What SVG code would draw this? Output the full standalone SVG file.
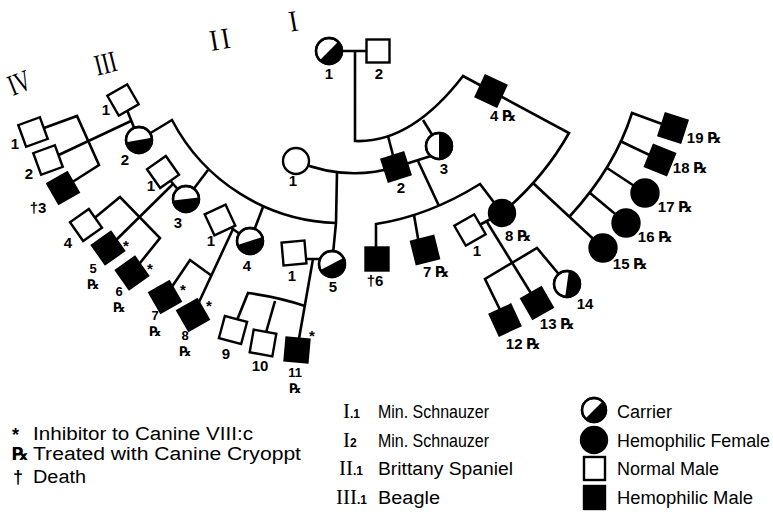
<svg xmlns="http://www.w3.org/2000/svg" width="773" height="512" viewBox="0 0 773 512">
<style>
.ln{fill:none;stroke:#000;stroke-width:2.6;stroke-linejoin:miter}
.nm{fill:#fff;stroke:#000;stroke-width:2.4}
.hm{fill:#000;stroke:#000;stroke-width:2.4}
.ol{fill:none;stroke:#000;stroke-width:2.4}
.lb{font-family:"Liberation Sans","DejaVu Sans",sans-serif;font-size:15px;font-weight:bold;text-anchor:middle;fill:#000}
.st{font-size:13px}
.rx{font-family:"DejaVu Sans","Liberation Sans",sans-serif}
.rn{font-family:"Liberation Serif","DejaVu Serif",serif;font-size:26px;text-anchor:middle;fill:#000}
.lg{font-family:"Liberation Sans","DejaVu Sans",sans-serif;font-size:18px;fill:#000}
.lr{font-family:"Liberation Serif","DejaVu Serif",serif;font-size:21px;fill:#000}
.ls{font-family:"Liberation Sans","DejaVu Sans",sans-serif;font-size:12px;font-weight:bold;fill:#000}
</style>
<defs>
<rect id="sq" x="-11.5" y="-11.5" width="23" height="23"/>
<path id="half" d="M-13,0 A13,13 0 0,0 13,0 Z"/>
</defs>

<!-- generation numerals -->
<g id="gen-labels">
<text class="rn" transform="translate(23,92) rotate(-22) scale(0.8,1.15)">IV</text>
<text class="rn" transform="translate(108,73) rotate(-14) scale(0.85,1.15)">III</text>
<text class="rn" transform="translate(223,49) rotate(-10) scale(1,1.15)" letter-spacing="3">II</text>
<text class="rn" transform="translate(295,31) rotate(-10) scale(1,1.15)">I</text>
</g>

<g id="connectors" class="ln">
<path d="M329,51 H378"/>
<path d="M355,51 V141 Q411,143.5 463,76 L491,91 L569,133 Q543,179 502,213"/>
<path d="M388,136 L396,167"/>
<path d="M423,120 L439,146"/>
<path d="M296,161 Q346,182 396,167"/>
<path d="M337,172 L336,223 L332,264"/>
<path d="M139,140 L172,120 A192,192 0 0,0 336,223"/>
<path d="M208,170 L186,199"/>
<path d="M263,207 L250,241"/>
<path d="M123,100 L139,140"/>
<path d="M131,121 L48,160"/>
<path d="M33,132 L77,116 L99,165 L63,188"/>
<path d="M163,172 L186,199"/>
<path d="M173,184 L108,248"/>
<path d="M86,225 L120,197 L160,238 L132,273"/>
<path d="M220,220 L250,241"/>
<path d="M233,229 L193,315"/>
<path d="M165,297 L190,260 L212,276"/>
<path d="M294,259 H332"/>
<path d="M313,259 L297,350"/>
<path d="M233,330 L248,293 Q278,297 305,306"/>
<path d="M275,301 L263,343"/>
<path d="M396,167 L431,156"/>
<path d="M418,161 L439,206"/>
<path d="M376,259 V224 Q428.5,216 480,184 L502,213"/>
<path d="M414,215 L420,250"/>
<path d="M470,230 L502,213"/>
<path d="M487,222 L537,303"/>
<path d="M505,320 L485,279 L537,248 L567,284"/>
<path d="M533,183 L603,248"/>
<path d="M570,216 Q615,167 632,113 L673,128"/>
<path d="M590,193 L626,223"/>
<path d="M607,168 L645,193"/>
<path d="M620,141 L660,160"/>
</g>

<!-- Generation I -->
<g id="I-1"><g transform="translate(329,51)"><circle r="13" class="nm"/><use href="#half" transform="rotate(-45)"/><circle r="13" class="ol"/></g><text class="lb" x="329" y="79">1</text></g>
<g id="I-2"><use href="#sq" class="nm" transform="translate(378,51)"/><text class="lb" x="379" y="79">2</text></g>

<!-- Generation II -->
<g id="II-1"><circle cx="296" cy="161" r="13" class="nm"/><text class="lb" x="293" y="186">1</text></g>
<g id="II-2"><use href="#sq" class="hm" transform="translate(396,167) rotate(-18)"/><text class="lb" x="401" y="193">2</text></g>
<g id="II-3"><g transform="translate(439,146)"><circle r="13" class="nm"/><use href="#half" transform="rotate(-90)"/><circle r="13" class="ol"/></g><text class="lb" x="444" y="174">3</text></g>
<g id="II-4"><use href="#sq" class="hm" transform="translate(491,91) rotate(25)"/><text class="lb" x="503" y="121">4 <tspan class="rx">℞</tspan></text></g>

<!-- Left family III.2 -->
<g id="III-1a"><use href="#sq" class="nm" transform="translate(123,100) rotate(-30)"/><text class="lb" x="106" y="115">1</text></g>
<g id="III-2"><g transform="translate(139,140)"><circle r="13" class="nm"/><use href="#half" transform="rotate(-10)"/><circle r="13" class="ol"/></g><text class="lb" x="125" y="165">2</text></g>
<g id="IV-1"><use href="#sq" class="nm" transform="translate(33,132) rotate(-20)"/><text class="lb" x="15" y="149">1</text></g>
<g id="IV-2"><use href="#sq" class="nm" transform="translate(48,160) rotate(-20)"/><text class="lb" x="29" y="179">2</text></g>
<g id="IV-3"><use href="#sq" class="hm" transform="translate(63,188) rotate(-30)"/><text class="lb" x="38" y="213">†3</text></g>

<!-- III.3 family -->
<g id="III-1b"><use href="#sq" class="nm" transform="translate(163,172) rotate(-35)"/><text class="lb" x="151" y="191">1</text></g>
<g id="III-3"><g transform="translate(186,199)"><circle r="13" class="nm"/><use href="#half" transform="rotate(-7)"/><circle r="13" class="ol"/></g><text class="lb" x="178" y="228">3</text></g>
<g id="IV-4"><use href="#sq" class="nm" transform="translate(86,225) rotate(-35)"/><text class="lb" x="68" y="248">4</text></g>
<g id="IV-5"><use href="#sq" class="hm" transform="translate(108,248) rotate(-35)"/><text class="lb" x="126" y="251">*</text><text class="lb st" x="93" y="273">5</text><text class="lb st rx" x="93" y="289">℞</text></g>
<g id="IV-6"><use href="#sq" class="hm" transform="translate(132,273) rotate(-35)"/><text class="lb" x="150" y="274">*</text><text class="lb st" x="119" y="296">6</text><text class="lb st rx" x="119" y="312">℞</text></g>

<!-- III.4 family -->
<g id="III-1c"><use href="#sq" class="nm" transform="translate(220,220) rotate(-25)"/><text class="lb" x="211" y="246">1</text></g>
<g id="III-4"><g transform="translate(250,241)"><circle r="13" class="nm"/><use href="#half" transform="rotate(-18)"/><circle r="13" class="ol"/></g><text class="lb" x="247" y="271">4</text></g>
<g id="IV-7"><use href="#sq" class="hm" transform="translate(165,297) rotate(-30)"/><text class="lb" x="183" y="295">*</text><text class="lb st" x="155" y="320">7</text><text class="lb st rx" x="155" y="336">℞</text></g>
<g id="IV-8"><use href="#sq" class="hm" transform="translate(193,315) rotate(-30)"/><text class="lb" x="209" y="311">*</text><text class="lb st" x="185" y="340">8</text><text class="lb st rx" x="185" y="356">℞</text></g>

<!-- III.5 family -->
<g id="III-1d"><use href="#sq" class="nm" transform="translate(294,253) rotate(-5)"/><text class="lb" x="292" y="281">1</text></g>
<g id="III-5"><g transform="translate(332,264)"><circle r="13" class="nm"/><use href="#half" transform="rotate(-28)"/><circle r="13" class="ol"/></g><text class="lb" x="333" y="292">5</text></g>
<g id="IV-9"><use href="#sq" class="nm" transform="translate(233,330) rotate(15)"/><text class="lb" x="226" y="359">9</text></g>
<g id="IV-10"><use href="#sq" class="nm" transform="translate(263,343) rotate(10)"/><text class="lb" x="260" y="371">10</text></g>
<g id="IV-11"><use href="#sq" class="hm" transform="translate(297,350) rotate(5)"/><text class="lb" x="312" y="341">*</text><text class="lb st" x="295" y="377">11</text><text class="lb st rx" x="295" y="393">℞</text></g>

<!-- II.2 x II.3 children -->
<g id="III-6"><use href="#sq" class="hm" transform="translate(377,259)"/><text class="lb" x="375" y="286">†6</text></g>
<g id="III-7"><use href="#sq" class="hm" transform="translate(425,250) rotate(-14)"/><text class="lb" x="436" y="277">7 <tspan class="rx">℞</tspan></text></g>
<g id="III-8"><circle cx="502" cy="213" r="13" class="hm"/><text class="lb" x="518" y="241">8 <tspan class="rx">℞</tspan></text></g>
<g id="III-1e"><use href="#sq" class="nm" transform="translate(470,230) rotate(-30)"/><text class="lb" x="477" y="256">1</text></g>
<g id="IV-12"><use href="#sq" class="hm" transform="translate(505,320) rotate(-25)"/><text class="lb" x="523" y="349">12 <tspan class="rx">℞</tspan></text></g>
<g id="IV-13"><use href="#sq" class="hm" transform="translate(537,303) rotate(-30)"/><text class="lb" x="557" y="329">13 <tspan class="rx">℞</tspan></text></g>
<g id="IV-14"><g transform="translate(567,284)"><circle r="13" class="nm"/><use href="#half" transform="rotate(-82)"/><circle r="13" class="ol"/></g><text class="lb" x="585" y="309">14</text></g>

<!-- II.4 x III.8 children -->
<g id="III-15"><circle cx="603" cy="248" r="13.5" class="hm"/><text class="lb" x="630" y="269">15 <tspan class="rx">℞</tspan></text></g>
<g id="III-16"><circle cx="626" cy="223" r="13.5" class="hm"/><text class="lb" x="655" y="242">16 <tspan class="rx">℞</tspan></text></g>
<g id="III-17"><circle cx="645" cy="193" r="13.5" class="hm"/><text class="lb" x="675" y="212">17 <tspan class="rx">℞</tspan></text></g>
<g id="III-18"><use href="#sq" class="hm" transform="translate(660,160) rotate(22)"/><text class="lb" x="690" y="173">18 <tspan class="rx">℞</tspan></text></g>
<g id="III-19"><use href="#sq" class="hm" transform="translate(673,128) rotate(18)"/><text class="lb" x="704" y="143">19 <tspan class="rx">℞</tspan></text></g>

<!-- Legend -->
<g id="legend-notes">
<text class="lg" x="12" y="441" font-weight="bold">*</text>
<text class="lg" x="33" y="440" textLength="220" lengthAdjust="spacingAndGlyphs">Inhibitor to Canine VIII:c</text>
<text class="lg rx" x="12" y="460" font-size="15" font-weight="bold">℞</text>
<text class="lg" x="33" y="460" textLength="268" lengthAdjust="spacingAndGlyphs">Treated with Canine Cryoppt</text>
<text class="lg" x="13" y="483" font-weight="bold">†</text>
<text class="lg" x="33" y="483" textLength="53" lengthAdjust="spacingAndGlyphs">Death</text>
</g>
<g id="legend-breeds">
<text x="343" y="418"><tspan class="lr">I</tspan><tspan class="ls">.1</tspan></text>
<text class="lg" x="378" y="418" textLength="111" lengthAdjust="spacingAndGlyphs">Min. Schnauzer</text>
<text x="343" y="447"><tspan class="lr">I</tspan><tspan class="ls">2</tspan></text>
<text class="lg" x="378" y="447" textLength="111" lengthAdjust="spacingAndGlyphs">Min. Schnauzer</text>
<text x="339" y="475"><tspan class="lr">II</tspan><tspan class="ls">.1</tspan></text>
<text class="lg" x="378" y="475" textLength="135" lengthAdjust="spacingAndGlyphs">Brittany Spaniel</text>
<text x="336" y="504"><tspan class="lr">III</tspan><tspan class="ls">.1</tspan></text>
<text class="lg" x="378" y="504" textLength="62" lengthAdjust="spacingAndGlyphs">Beagle</text>
</g>
<g id="legend-symbols">
<g transform="translate(594,410)"><circle r="12" class="nm"/><use href="#half" transform="rotate(-45) scale(0.923)"/><circle r="12" class="ol"/></g>
<text class="lg" x="617" y="418" textLength="55" lengthAdjust="spacingAndGlyphs">Carrier</text>
<circle cx="594" cy="440" r="13" class="hm"/>
<text class="lg" x="617" y="447" textLength="153" lengthAdjust="spacingAndGlyphs">Hemophilic Female</text>
<rect x="584" y="457" width="21" height="23" class="nm"/>
<text class="lg" x="617" y="475" textLength="102" lengthAdjust="spacingAndGlyphs">Normal Male</text>
<rect x="584" y="486" width="21" height="23" class="hm"/>
<text class="lg" x="617" y="504" textLength="136" lengthAdjust="spacingAndGlyphs">Hemophilic Male</text>
</g>
</svg>
